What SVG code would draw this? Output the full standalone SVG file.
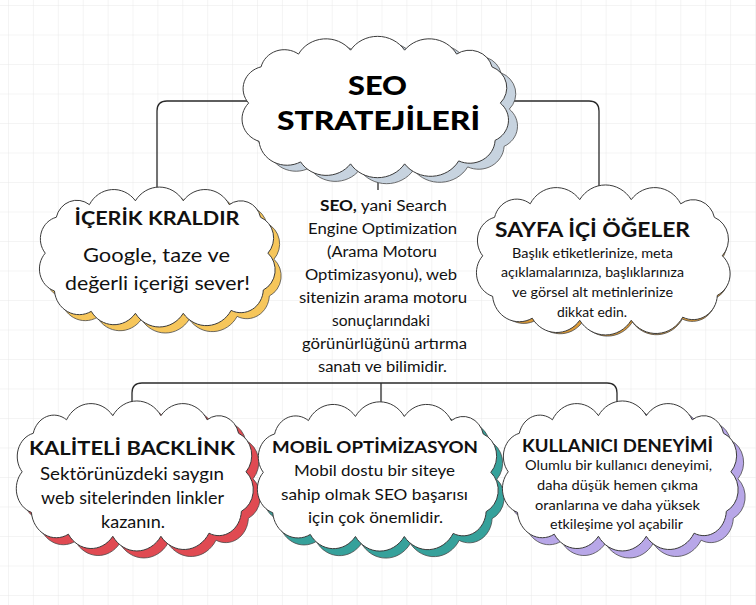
<svg xmlns="http://www.w3.org/2000/svg" width="756" height="605" viewBox="0 0 756 605">
<defs>
<pattern id="grid" x="8" y="5" width="24.9" height="29.5" patternUnits="userSpaceOnUse">
<path d="M0,0 H24.9 M0,0 V29.5" fill="none" stroke="#e9e9e9" stroke-width="1"/>
</pattern>
<path id="cloud" d="M-110,-42 A23,23 0 0 1 -74,-55 A30,30 0 0 1 -24,-59 A31,31 0 0 1 28,-59 A30,30 0 0 1 78,-55 A22,22 0 0 1 112,-42 A23,23 0 0 1 120,-5 A23,23 0 0 1 115,33 A24.5,24.5 0 0 1 80,54 A31,31 0 0 1 28,57 A31,31 0 0 1 -24,57 A29,29 0 0 1 -72,55 A27,27 0 0 1 -112,34 A24,24 0 0 1 -122,-5 A23,23 0 0 1 -110,-42 Z" vector-effect="non-scaling-stroke"/>
</defs>
<style>
.bg{fill:#ffffff}
.cw{fill:#ffffff;stroke:#3a3a3a;stroke-width:1}
.sh{stroke:#4a4a4a;stroke-width:0.8}
.blue{fill:#c7d3df}
.yellow{fill:#f6c65b}
.orange{fill:#dc9a36}
.red{fill:#e04a52}
.teal{fill:#36a19b}
.lav{fill:#b8a7e8}
.conn{fill:none;stroke:#2a2a2a;stroke-width:1.3}
text{font-family:Lato,"Liberation Sans",sans-serif;text-anchor:middle;fill:#111111}
.main{font-weight:900;font-size:27px;fill:#000000}
.h{font-weight:700}
.b{font-weight:400}
</style>
<rect class="bg" x="0" y="0" width="756" height="605"/>
<rect x="0" y="0" width="756" height="605" fill="url(#grid)"/>

<g id="connectors">
<path class="conn" d="M157,192 V111 Q157,101 167,101 H589 Q599,101 599,111 V190"/>
<path class="conn" d="M378,170 V190"/>
<path class="conn" d="M132,408 V393 Q132,383 142,383 H607 Q617,383 617,393 V408"/>
<path class="conn" d="M381,383 V412"/>
</g>

<g id="seo-stratejileri">
<use href="#cloud" class="sh blue" transform="translate(384.5,114) scale(1.04,0.98)"/>
<use href="#cloud" class="cw" transform="translate(375.5,108) scale(1.04,0.98)"/>
<text class="main" x="377.5" y="95" textLength="59" lengthAdjust="spacingAndGlyphs">SEO</text>
<text class="main" x="378.5" y="130" textLength="203" lengthAdjust="spacingAndGlyphs">STRATEJİLERİ</text>
</g>

<g id="icerik-kraldir">
<use href="#cloud" class="sh yellow" transform="translate(163.5,264) scale(0.92,0.97)"/>
<use href="#cloud" class="cw" transform="translate(157.5,258) scale(0.92,0.97)"/>
<text class="h" x="157" y="225" font-size="18" textLength="165" lengthAdjust="spacingAndGlyphs">İÇERİK KRALDIR</text>
<text class="b" x="156.5" y="262" font-size="19" textLength="147" lengthAdjust="spacingAndGlyphs">Google, taze ve</text>
<text class="b" x="157.5" y="290" font-size="19" textLength="185" lengthAdjust="spacingAndGlyphs">değerli içeriği sever!</text>
</g>

<g id="sayfa-ici-ogeler">
<use href="#cloud" class="sh orange" transform="translate(605.5,265) scale(0.96,1.0)"/>
<use href="#cloud" class="cw" transform="translate(603.5,261) scale(0.99,1.04)"/>
<text class="h" x="592.5" y="237" font-size="20" textLength="195" lengthAdjust="spacingAndGlyphs">SAYFA İÇİ ÖĞELER</text>
<text class="b" x="592.5" y="258" font-size="14" textLength="161" lengthAdjust="spacingAndGlyphs">Başlık etiketlerinize, meta</text>
<text class="b" x="592.5" y="277" font-size="14" textLength="183" lengthAdjust="spacingAndGlyphs">açıklamalarınıza, başlıklarınıza</text>
<text class="b" x="592.5" y="297" font-size="14" textLength="161" lengthAdjust="spacingAndGlyphs">ve görsel alt metinlerinize</text>
<text class="b" x="592" y="317" font-size="14" textLength="70" lengthAdjust="spacingAndGlyphs">dikkat edin.</text>
</g>

<g id="seo-tanim">
<text class="b" x="383.5" y="211" font-size="15.5" textLength="127" lengthAdjust="spacingAndGlyphs"><tspan font-weight="700">SEO,</tspan> yani Search</text>
<text class="b" x="382.5" y="234" font-size="15.5" textLength="149" lengthAdjust="spacingAndGlyphs">Engine Optimization</text>
<text class="b" x="382" y="257" font-size="15.5" textLength="110" lengthAdjust="spacingAndGlyphs">(Arama Motoru</text>
<text class="b" x="381" y="280" font-size="15.5" textLength="152" lengthAdjust="spacingAndGlyphs">Optimizasyonu), web</text>
<text class="b" x="383" y="303" font-size="15.5" textLength="168" lengthAdjust="spacingAndGlyphs">sitenizin arama motoru</text>
<text class="b" x="381" y="326" font-size="15.5" textLength="98" lengthAdjust="spacingAndGlyphs">sonuçlarındaki</text>
<text class="b" x="384.5" y="349" font-size="15.5" textLength="165" lengthAdjust="spacingAndGlyphs">görünürlüğünü artırma</text>
<text class="b" x="382.5" y="372" font-size="15.5" textLength="129" lengthAdjust="spacingAndGlyphs">sanatı ve bilimidir.</text>
</g>

<g id="kaliteli-backlink">
<use href="#cloud" class="sh red" transform="translate(142,484) scale(0.925,1.04)"/>
<use href="#cloud" class="cw" transform="translate(135,477) scale(0.925,1.04)"/>
<text class="h" x="132" y="455" font-size="18.5" textLength="206" lengthAdjust="spacingAndGlyphs">KALİTELİ BACKLİNK</text>
<text class="b" x="132" y="480" font-size="17.5" textLength="184" lengthAdjust="spacingAndGlyphs">Sektörünüzdeki saygın</text>
<text class="b" x="132.5" y="504" font-size="17.5" textLength="183" lengthAdjust="spacingAndGlyphs">web sitelerinden linkler</text>
<text class="b" x="133" y="528" font-size="17.5" textLength="64" lengthAdjust="spacingAndGlyphs">kazanın.</text>
</g>

<g id="mobil-optimizasyon">
<use href="#cloud" class="sh teal" transform="translate(384,484.5) scale(0.94,1.035)"/>
<use href="#cloud" class="cw" transform="translate(378,477.5) scale(0.94,1.035)"/>
<text class="h" x="375" y="453" font-size="17.5" textLength="206" lengthAdjust="spacingAndGlyphs">MOBİL OPTİMİZASYON</text>
<text class="b" x="374.5" y="476" font-size="16" textLength="161" lengthAdjust="spacingAndGlyphs">Mobil dostu bir siteye</text>
<text class="b" x="374.5" y="500" font-size="16" textLength="187" lengthAdjust="spacingAndGlyphs">sahip olmak SEO başarısı</text>
<text class="b" x="375.5" y="523" font-size="16" textLength="135" lengthAdjust="spacingAndGlyphs">için çok önemlidir.</text>
</g>

<g id="kullanici-deneyimi">
<use href="#cloud" class="sh lav" transform="translate(627.5,484) scale(0.92,1.04)"/>
<use href="#cloud" class="cw" transform="translate(620.5,477) scale(0.92,1.04)"/>
<text class="h" x="617.5" y="452" font-size="16.5" textLength="191" lengthAdjust="spacingAndGlyphs">KULLANICI DENEYİMİ</text>
<text class="b" x="618.5" y="470" font-size="14" textLength="187" lengthAdjust="spacingAndGlyphs">Olumlu bir kullanıcı deneyimi,</text>
<text class="b" x="617.5" y="490" font-size="14" textLength="161" lengthAdjust="spacingAndGlyphs">daha düşük hemen çıkma</text>
<text class="b" x="617.5" y="510" font-size="14" textLength="165" lengthAdjust="spacingAndGlyphs">oranlarına ve daha yüksek</text>
<text class="b" x="616.5" y="529" font-size="14" textLength="133" lengthAdjust="spacingAndGlyphs">etkileşime yol açabilir</text>
</g>
</svg>
